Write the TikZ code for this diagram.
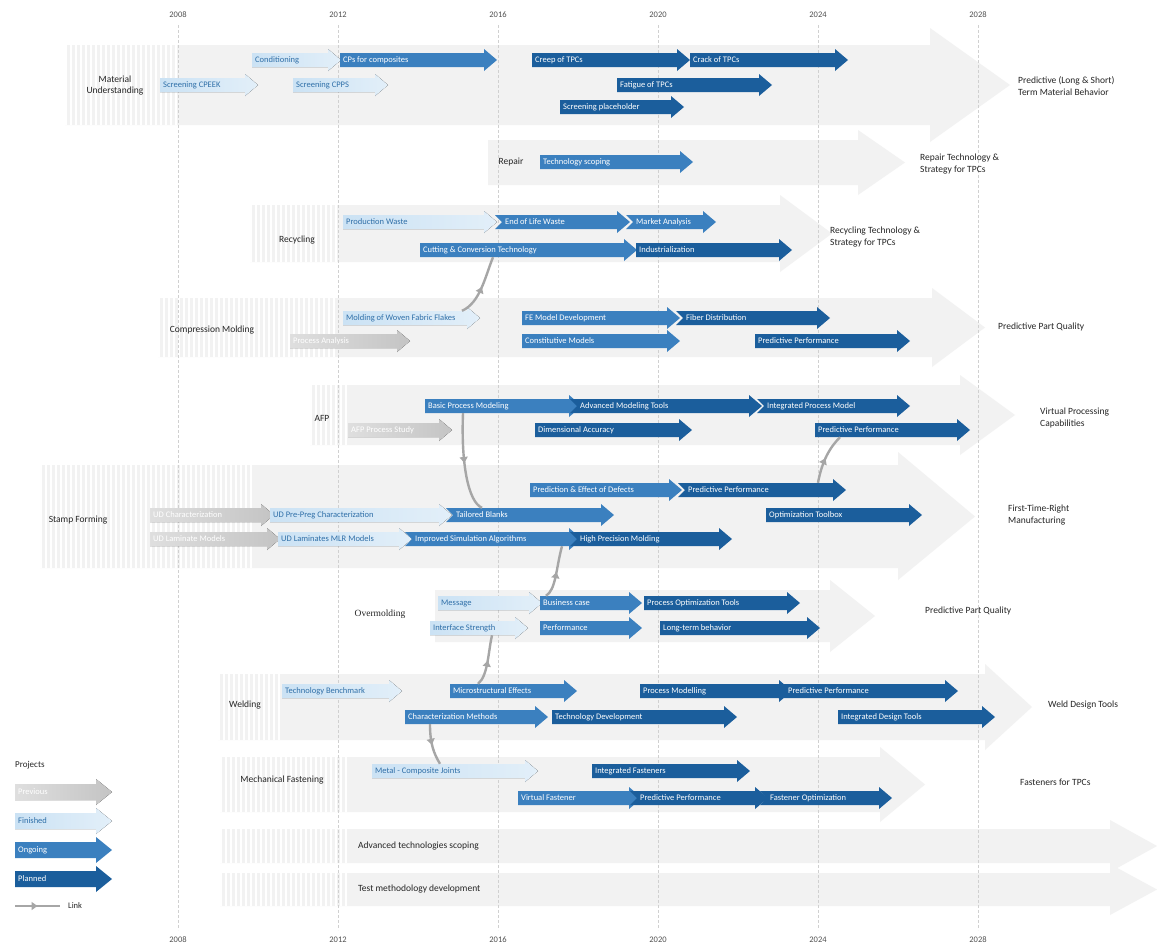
\documentclass[tikz,border=0pt]{standalone}
\usepackage{fontspec}
\setmainfont{Carlito}
\newfontfamily\serifl{Liberation Serif}
\usetikzlibrary{decorations.markings,arrows.meta}
\definecolor{bgc}{HTML}{F2F2F2}
\definecolor{pastc}{HTML}{C4C4C4}
\definecolor{finc}{HTML}{CBE2F4}
\definecolor{fintc}{HTML}{2F6FA8}
\definecolor{ongc}{HTML}{3B80BF}
\definecolor{planc}{HTML}{1B5E9C}
\definecolor{linkc}{HTML}{A6A6A6}
\definecolor{gridc}{HTML}{D0D0D0}
\definecolor{txtc}{HTML}{262626}
\tikzset{
  past fill/.style={left color=pastc!55, right color=pastc}, past text/.style={text=white},
  fin fill/.style={left color=finc, right color=finc!55}, fin text/.style={text=fintc},
  ong fill/.style={fill=ongc}, ong text/.style={text=white},
  plan fill/.style={fill=planc}, plan text/.style={text=white},
  body/.style={inner sep=0pt, minimum height=14pt, anchor=west},
  itemtext/.style={font=\fontsize{8.5}{9.5}\selectfont, inner sep=0pt, anchor=west},
  rowlbl/.style={font=\fontsize{9.5}{11}\selectfont, text=txtc, align=center, inner sep=0pt},
  goallbl/.style={font=\fontsize{9.5}{11.5}\selectfont, text=txtc, align=left, anchor=west, inner sep=0pt},
  yearlbl/.style={font=\fontsize{8.5}{9.5}\selectfont, text=txtc!80, inner sep=0pt},
  gridline/.style={draw=gridc, line width=0.7pt, dash pattern=on 3pt off 2pt},
  link/.style={draw=linkc, line width=2.4pt, postaction={decorate},
    decoration={markings, mark=at position 0.5 with {\arrow[linkc]{Triangle[width=8pt,length=6pt]}}}},
}
% optional notch depth, type, x1, x2, y, name, text
\newcommand\proj[7][0]{%
  \fill[#2 fill] (#3,#5-7) -- (#4-13,#5-7) -- (#4-13,#5-11) -- (#4,#5) -- (#4-13,#5+11) -- (#4-13,#5+7) -- (#3,#5+7) -- (#3+#1,#5) -- cycle;
  \node[body, minimum width={(#4-#3-13)*1pt}] (#6) at (#3,#5) {};
  \node[itemtext, #2 text] (#6-t) at (#3+3+#1,#5) {#7};
}
% legend arrow: type, y, name, text
\newcommand\legarrow[4]{%
  \fill[#1 fill] (15,#2-8) -- (96,#2-8) -- (96,#2-13) -- (112,#2) -- (96,#2+13) -- (96,#2+8) -- (15,#2+8) -- cycle;
  \node[itemtext, #1 text] (#3) at (18,#2) {#4};
}
% background arrow: x1, xh, xt, ytop, ybot, headtop, headbot
\newcommand\bgarrow[7]{%
  \fill[bgc] (#1,#4) -- (#2,#4) -- (#2,#6) -- (#3,{(#4+#5)/2}) -- (#2,#7) -- (#2,#5) -- (#1,#5) -- cycle;
}
% stripes: x1, x2, ytop, ybot
\newcommand\stripes[4]{%
  \pgfmathtruncatemacro\nst{(#2-#1)/5}%
  \foreach \i in {0,...,\nst}{\fill[white] ({#1+5*\i},#3) rectangle ({#1+5*\i+2},#4);}%
}
\begin{document}
\begin{tikzpicture}[x=1pt,y=-1pt]
\useasboundingbox[fill=white] (0,0) rectangle (1157,951);

% background arrows
\bgarrow{65}{930}{1010}{45}{125}{28}{142}
\stripes{65}{176}{45}{125}
\bgarrow{488}{858}{905}{140}{185}{130}{195}
\bgarrow{250}{780}{832}{205}{262}{195}{272}
\stripes{250}{335}{205}{262}
\bgarrow{158}{932}{985}{298}{357}{288}{367}
\stripes{158}{337}{298}{357}
\bgarrow{310}{960}{1015}{385}{445}{375}{455}
\stripes{310}{345}{385}{445}
\bgarrow{40}{898}{975}{465}{568}{452}{580}
\stripes{40}{250}{465}{568}
\bgarrow{435}{830}{875}{590}{642}{580}{652}
\bgarrow{218}{985}{1032}{674}{740}{664}{750}
\stripes{218}{278}{674}{740}
\bgarrow{220}{880}{925}{757}{812}{747}{822}
\stripes{220}{347}{757}{812}
\bgarrow{220}{1110}{1157}{829}{863}{820}{872}
\stripes{220}{347}{829}{863}
\bgarrow{220}{1110}{1157}{873}{906}{864}{915}
\stripes{220}{347}{873}{906}

% grid and years
\foreach \yr [count=\i from 0] in {2008,2012,2016,2020,2024,2028}{
  \draw[gridline] ({178+160*\i},25) -- ({178+160*\i},930);
  \node[yearlbl] (yt\i) at ({178+160*\i},15) {\yr};
  \node[yearlbl] (yb\i) at ({178+160*\i},940) {\yr};
}

% Row 1: Material Understanding
\node[rowlbl] (lmat) at (115,86) {Material\\Understanding};
\proj{fin}{252}{341}{60}{cond}{Conditioning}
\proj{ong}{340}{497}{60}{cps}{CPs for composites}
\proj{fin}{160}{258}{85}{scpeek}{Screening CPEEK}
\proj{fin}{293}{388}{85}{scpps}{Screening CPPS}
\proj{plan}{532}{690}{60}{creep}{Creep of TPCs}
\proj{plan}{690}{848}{60}{crack}{Crack of TPCs}
\proj{plan}{617}{772}{85}{fatigue}{Fatigue of TPCs}
\proj{plan}{560}{684}{107}{screen}{Screening placeholder}
\node[goallbl] (gmat) at (1018,86) {Predictive (Long \& Short)\\Term Material Behavior};

% Row 2: Repair
\node[rowlbl] (lrep) at (511,162) {Repair};
\proj{ong}{540}{693}{162}{techscop}{Technology scoping}
\node[goallbl] (grep) at (920,164) {Repair Technology \&\\Strategy for TPCs};

% Row 3: Recycling
\node[rowlbl] (lrec) at (297,240) {Recycling};
\proj{fin}{343}{497}{222}{prodw}{Production Waste}
\proj[7]{ong}{495}{630}{222}{eol}{End of Life Waste}
\proj[7]{ong}{626}{716}{222}{market}{Market Analysis}
\proj{ong}{420}{637}{250}{cut}{Cutting \& Conversion Technology}
\proj{plan}{636}{792}{250}{indus}{Industrialization}
\node[goallbl] (grec) at (830,237) {Recycling Technology \&\\Strategy for TPCs};

% Row 4: Compression Molding
\node[rowlbl] (lcm) at (212,330) {Compression Molding};
\proj{fin}{343}{480}{318}{mwff}{Molding of Woven Fabric Flakes}
\proj{past}{290}{410}{341}{cmpast}{Process Analysis}
\proj{ong}{522}{680}{318}{fe}{FE Model Development}
\proj[7]{plan}{676}{830}{318}{fiber}{Fiber Distribution}
\proj{ong}{522}{680}{341}{const}{Constitutive Models}
\proj{plan}{755}{910}{341}{cmpred}{Predictive Performance}
\node[goallbl] (gcm) at (998,327) {Predictive Part Quality};

% Row 5: AFP
\node[rowlbl] (lafp) at (322,418) {AFP};
\proj{past}{348}{452}{430}{afppast}{AFP Process Study}
\proj{ong}{425}{582}{406}{basic}{Basic Process Modeling}
\proj[7]{plan}{570}{762}{406}{adv}{Advanced Modeling Tools}
\proj[7]{plan}{757}{910}{406}{integ}{Integrated Process Model}
\proj{plan}{535}{692}{430}{dim}{Dimensional Accuracy}
\proj{plan}{815}{970}{430}{afppred}{Predictive Performance}
\node[goallbl] (gafp) at (1040,418) {Virtual Processing\\Capabilities};

% Row 6: Stamp Forming
\node[rowlbl] (lsf) at (78,520) {Stamp Forming};
\proj{ong}{530}{682}{490}{defects}{Prediction \& Effect of Defects}
\proj[7]{plan}{678}{846}{490}{sfpred}{Predictive Performance}
\proj{past}{150}{274}{515}{sfpast1}{UD Characterization}
\proj{fin}{270}{452}{515}{udpp}{UD Pre-Preg Characterization}
\proj[7]{ong}{446}{614}{515}{tailored}{Tailored Blanks}
\proj{plan}{766}{922}{515}{opt}{Optimization Toolbox}
\proj{past}{150}{280}{539}{sfpast2}{UD Laminate Models}
\proj{fin}{278}{412}{539}{udlam}{UD Laminates MLR Models}
\proj[7]{ong}{405}{582}{539}{improved}{Improved Simulation Algorithms}
\proj[7]{plan}{570}{732}{539}{highp}{High Precision Molding}
\node[goallbl] (gsf) at (1008,515) {First-Time-Right\\Manufacturing};

% Row 7: Overmolding
\node[rowlbl, font=\serifl\fontsize{9.5}{11}\selectfont] (lom) at (380,614) {Overmolding};
\proj{fin}{438}{542}{603}{message}{Message}
\proj{ong}{540}{642}{603}{business}{Business case}
\proj{plan}{644}{800}{603}{procopt}{Process Optimization Tools}
\proj{fin}{430}{528}{628}{interface}{Interface Strength}
\proj{ong}{540}{642}{628}{perf}{Performance}
\proj{plan}{660}{820}{628}{longterm}{Long-term behavior}
\node[goallbl] (gom) at (925,611) {Predictive Part Quality};

% Row 8: Welding
\node[rowlbl] (lw) at (245,705) {Welding};
\proj{fin}{282}{402}{691}{bench}{Technology Benchmark}
\proj{ong}{450}{577}{691}{micro}{Microstructural Effects}
\proj{plan}{640}{792}{691}{procmod}{Process Modelling}
\proj[7]{plan}{778}{958}{691}{wpred}{Predictive Performance}
\proj{ong}{405}{548}{717}{charm}{Characterization Methods}
\proj{plan}{552}{737}{717}{techdev}{Technology Development}
\proj{plan}{838}{995}{717}{idt}{Integrated Design Tools}
\node[goallbl] (gw) at (1048,705) {Weld Design Tools};

% Row 9: Mechanical Fastening
\node[rowlbl] (lmf) at (282,780) {Mechanical Fastening};
\proj{fin}{372}{538}{771}{metal}{Metal - Composite Joints}
\proj{plan}{592}{750}{771}{intf}{Integrated Fasteners}
\proj{ong}{518}{642}{798}{virtual}{Virtual Fastener}
\proj[7]{plan}{630}{768}{798}{mfpred}{Predictive Performance}
\proj[7]{plan}{760}{892}{798}{fastopt}{Fastener Optimization}
\node[goallbl] (gmf) at (1020,782) {Fasteners for TPCs};

% Rows 10, 11
\node[goallbl] (adv2) at (358,846) {Advanced technologies scoping};
\node[goallbl] (test) at (358,889) {Test methodology development};

% links
\draw[link] ([xshift=119pt]mwff.north west) .. controls +(18,-8) and +(-8,20) .. ([xshift=73pt]cut.south west);
\draw[link] ([xshift=38pt]basic.south west) .. controls +(-2,50) and +(-14,-6) .. ([xshift=36pt]tailored.north west);
\draw[link] ([xshift=140pt]sfpred.north west) .. controls +(4,-22) and +(-10,10) .. ([xshift=25pt]afppred.south west);
\draw[link] ([xshift=6pt]business.north west) .. controls +(10,-6) and +(-6,22) .. ([xshift=157pt]improved.south west);
\draw[link] ([xshift=28pt]micro.north west) .. controls +(10,-8) and +(-4,18) .. ([xshift=62pt]interface.south west);
\draw[link] ([xshift=25pt]charm.south west) .. controls +(0,20) and +(-6,-10) .. ([xshift=68pt]metal.north west);

% legend
\node[font=\fontsize{9}{10}\selectfont, text=txtc, anchor=west, inner sep=0pt] (legt) at (15,765) {Projects};
\legarrow{past}{792}{legpast}{Previous}
\legarrow{fin}{821}{legfin}{Finished}
\legarrow{ong}{850}{legong}{Ongoing}
\legarrow{plan}{879}{legplan}{Planned}
\coordinate (lla) at (15,906);
\coordinate (llb) at (60,906);
\node[font=\fontsize{8.5}{9.5}\selectfont, text=txtc, anchor=west, inner sep=0pt] (legl) at (68,906) {Link};
\draw[link] (lla) -- (llb);
\end{tikzpicture}
\end{document}
